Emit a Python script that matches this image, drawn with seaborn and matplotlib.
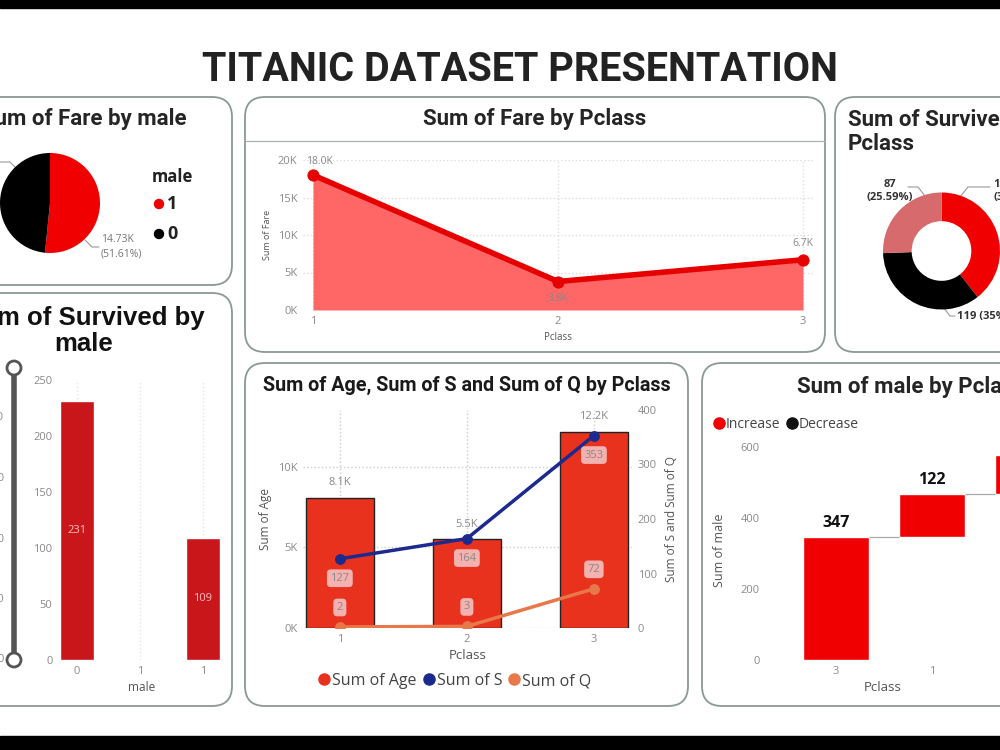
import numpy as np
import matplotlib
matplotlib.use('Agg')
import matplotlib.pyplot as plt
from matplotlib.patches import FancyBboxPatch, Rectangle, Circle
from matplotlib.lines import Line2D
import seaborn as sns

# ---- data ----
fare_male_labels = ['1', '0']
fare_by_male = [14730, 13810]

pclass = [1, 2, 3]
fare_by_pclass = [18000, 3800, 6700]

surv_pclass_labels = ['1', '3', '2']
survived_by_pclass = [134, 119, 87]

male_ticks = ['0', '1', '1']
survived_by_male = [231, np.nan, 109]
slider_ticks = ['200', '150', '100', '50', '0']

age_by_pclass = [8100, 5500, 12200]
s_by_pclass = [127, 164, 353]
q_by_pclass = [2, 3, 72]

waterfall_ticks = ['3', '1', '2']
male_by_pclass = [347, 122, 108]

# ---- figure / helpers ----
sns.set_theme(style='white')
plt.rcParams['font.family'] = ['Open Sans', 'DejaVu Sans']
TITLE_FONT = ['Roboto', 'DejaVu Sans']

W, H = 1000, 750
fig = plt.figure(figsize=(10, 7.5), dpi=100)
fig.patch.set_facecolor('white')


def px_rect(x0, y0, x1, y1):
    return [x0 / W, 1 - y1 / H, (x1 - x0) / W, (y1 - y0) / H]


RED = '#f00000'
GREY_TXT = '#8a8a8a'
DARK_TXT = '#555555'
PT = 16  # panel title size

# background canvas in pixel units
bg = fig.add_axes([0, 0, 1, 1])
bg.set_xlim(0, W)
bg.set_ylim(H, 0)
bg.axis('off')
bg.set_zorder(0)

bg.add_patch(Rectangle((0, 0), W, 8, color='black'))
bg.add_patch(Rectangle((0, 736), W, 14, color='black'))

panels = [(-30, 97, 232, 285), (245, 97, 825, 352), (835, 97, 1030, 352),
          (-30, 293, 232, 706), (245, 363, 688, 706), (702, 363, 1030, 706)]
for x0, y0, x1, y1 in panels:
    bg.add_patch(FancyBboxPatch((x0, y0), x1 - x0, y1 - y0,
                                boxstyle='round,pad=0,rounding_size=20',
                                fc='white', ec='#8c9896', lw=1.3))
bg.plot([245, 825], [141, 141], color='#a9b2b0', lw=0.9)

bg.text(520, 70, 'TITANIC DATASET PRESENTATION', ha='center', va='center',
        fontsize=28.5, fontweight='bold', family=TITLE_FONT, color='#222222')


def style_ticks(ax, size=8):
    ax.tick_params(axis='both', length=0, labelsize=size, labelcolor=GREY_TXT, pad=4)
    for s in ax.spines.values():
        s.set_visible(False)
    ax.set_facecolor('none')


# ---- panel 1: pie of fare by male ----
bg.text(187, 119, 'Sum of Fare by male', ha='right', va='center', fontsize=PT,
        fontweight='bold', family=TITLE_FONT, color='#252525')
ax1 = fig.add_axes(px_rect(0, 153, 100, 253))
ax1.pie(fare_by_male, colors=[RED, 'black'], startangle=90, counterclock=False,
        wedgeprops=dict(edgecolor='none'))
ax1.set_xlim(-1, 1)
ax1.set_ylim(-1, 1)
tot = sum(fare_by_male)
bg.text(101, 247, f'{fare_by_male[0] / 1000:.2f}K\n({fare_by_male[0] / tot * 100:.2f}%)',
        ha='left', va='center', fontsize=7.5, color='#777777', linespacing=1.4)
bg.plot([85, 92, 99], [240, 247, 247], color='#999999', lw=0.8)
bg.plot([-5, 10, 16], [162, 162, 168], color='#999999', lw=0.8)
bg.text(152, 177, 'male', ha='left', va='center', fontsize=12, fontweight='bold',
        color='#222222')
for i, (lab, col) in enumerate(zip(fare_male_labels, [RED, 'black'])):
    y = 204 + i * 30
    bg.add_patch(Circle((159, y), 4.5, color=col))
    bg.text(167, y, lab, ha='left', va='center', fontsize=13, fontweight='bold',
            color='#222222')

# ---- panel 2: area of fare by pclass ----
bg.text(535, 119, 'Sum of Fare by Pclass', ha='center', va='center', fontsize=PT,
        fontweight='bold', family=TITLE_FONT, color='#252525')
ax2 = fig.add_axes(px_rect(303, 160, 813, 310))
ax2.fill_between(pclass, fare_by_pclass, color='#ff6666', lw=0, zorder=1)
sns.lineplot(x=pclass, y=fare_by_pclass, ax=ax2, color='#e60000', lw=4, marker='o',
             markersize=8, markeredgecolor='#e60000', zorder=3)
ax2.set_xlim(1 - 10 / 245, 3 + 10 / 245)
ax2.set_ylim(0, 20000)
ax2.set_yticks(range(0, 20001, 5000))
ax2.set_yticklabels([f'{v // 1000}K' for v in range(0, 20001, 5000)])
ax2.set_xticks(pclass)
ax2.grid(True, ls=':', color='#dddddd', lw=1)
style_ticks(ax2)
ax2.set_xlabel('Pclass', fontsize=7, color=DARK_TXT, labelpad=4)
ax2.set_ylabel('Sum of Fare', fontsize=6.5, color=DARK_TXT, labelpad=4)
fare_label_offsets = [(5, 10), (0, -12), (0, 12)]
for x, v, off in zip(pclass, fare_by_pclass, fare_label_offsets):
    ax2.annotate(f'{v / 1000:.1f}K', (x, v), xytext=off, textcoords='offset points',
                 ha='center', va='center', fontsize=7.5, color='#888888')

# ---- panel 3: donut of survived by pclass ----
bg.text(848, 132, 'Sum of Survived by\nPclass', ha='left', va='center', fontsize=PT,
        fontweight='bold', family=TITLE_FONT, color='#252525', linespacing=1.15)
cx, cy, r = 941.5, 251, 58.5
ax3 = fig.add_axes(px_rect(cx - r, cy - r, cx + r, cy + r))
ax3.pie(survived_by_pclass, colors=[RED, 'black', '#d66a6c'], startangle=90,
        counterclock=False, wedgeprops=dict(width=0.49, edgecolor='none'))
ax3.set_xlim(-1, 1)
ax3.set_ylim(-1, 1)
stot = sum(survived_by_pclass)


def pct(v):
    return ('%.2f' % (v / stot * 100)).rstrip('0').rstrip('.')


bg.text(993, 191, f'{survived_by_pclass[0]}\n({pct(survived_by_pclass[0])}%)', ha='left',
        va='center', fontsize=8, fontweight='bold', color='#333333', linespacing=1.3)
bg.text(957, 316, f'{survived_by_pclass[1]} ({pct(survived_by_pclass[1])}%)', ha='left',
        va='center', fontsize=8, fontweight='bold', color='#333333')
bg.text(890, 191, f'{survived_by_pclass[2]}\n({pct(survived_by_pclass[2])}%)', ha='center',
        va='center', fontsize=8, fontweight='bold', color='#333333', linespacing=1.3)
bg.plot([908, 918, 925], [187, 187, 196], color='#999999', lw=0.8)
bg.plot([960, 968, 990], [197, 187, 187], color='#999999', lw=0.8)
bg.plot([944, 950, 955], [308, 316, 316], color='#999999', lw=0.8)

# ---- panel 4: bars of survived by male ----
bg.text(84, 331, 'Sum of Survived by\nmale', ha='center', va='center', fontsize=18.5,
        fontweight='bold', family=['Liberation Sans', 'DejaVu Sans'], color='#111111',
        linespacing=1.1)
pos4 = list(range(len(male_ticks)))
ax4 = fig.add_axes(px_rect(58, 380, 225, 660))
sns.barplot(x=pos4, y=survived_by_male, order=pos4, color='#c8161b', saturation=1,
            width=0.55, ax=ax4, zorder=2)
ax4.bar_label(ax4.containers[0], label_type='center', color='#f7c0c0', fontsize=8)
ax4.set_xlim(-0.3, 2.35)
ax4.set_ylim(0, 250)
ax4.set_yticks(range(0, 251, 50))
ax4.set_xticklabels(male_ticks)
ax4.grid(True, axis='x', ls=':', color='#e4e4e4', lw=1)
style_ticks(ax4)
ax4.set_xlabel('male', fontsize=8.5, color=DARK_TXT, labelpad=3)
ax4.set_ylabel('')
# range slider
bg.plot([14, 14], [368, 660], color='#555555', lw=4, solid_capstyle='butt', zorder=2)
for yy in (368, 660):
    bg.add_patch(Circle((14, yy), 7, fc='white', ec='#555555', lw=2, zorder=3))
for i, t in enumerate(slider_ticks):
    bg.text(4, 418 + i * 60.5, t, ha='right', va='center', fontsize=8, color=GREY_TXT)

# ---- panel 5: combo chart ----
bg.text(467, 385, 'Sum of Age, Sum of S and Sum of Q by Pclass', ha='center', va='center',
        fontsize=14.2, fontweight='bold', family=TITLE_FONT, color='#1a1a1a')
pos5 = list(range(len(pclass)))
ax5 = fig.add_axes(px_rect(303, 410, 632, 628))
sns.barplot(x=pos5, y=age_by_pclass, order=pos5, color='#e8321e', saturation=1,
            width=0.535, edgecolor='#222222', linewidth=1, ax=ax5, zorder=2)
ax5.bar_label(ax5.containers[0], labels=[f'{v / 1000:.1f}K' for v in age_by_pclass],
              padding=7, fontsize=8, color='#888888')
ax5.set_xlim(-0.29, 2.3)
ax5.set_ylim(0, 13540)
ax5.set_yticks([0, 5000, 10000])
ax5.set_yticklabels(['0K', '5K', '10K'])
ax5.set_xticklabels([str(p) for p in pclass])
ax5.grid(True, ls=':', color='#cccccc', lw=1)
style_ticks(ax5)
ax5.set_xlabel('Pclass', fontsize=9.5, color=DARK_TXT, labelpad=3)
ax5.set_ylabel('Sum of Age', fontsize=8.5, color=DARK_TXT, labelpad=4)

ax5b = ax5.twinx()
sns.lineplot(x=pos5, y=s_by_pclass, ax=ax5b, color='#1c2a8e', lw=2.5, marker='o',
             markersize=7, markeredgecolor='#1c2a8e', zorder=4)
sns.lineplot(x=pos5, y=q_by_pclass, ax=ax5b, color='#e8774a', lw=2.5, marker='o',
             markersize=7, markeredgecolor='#e8774a', zorder=4)
ax5b.set_ylim(0, 400)
ax5b.set_yticks(range(0, 401, 100))
style_ticks(ax5b)
ax5b.set_ylabel('Sum of S and Sum of Q', fontsize=8.5, color=DARK_TXT, labelpad=6)
box = dict(boxstyle='round,pad=0.3,rounding_size=0.35', fc='#f6caca', ec='none', alpha=0.85)
for x, v in zip(pos5, s_by_pclass):
    ax5b.annotate(str(v), (x, v), xytext=(0, -14), textcoords='offset points', ha='center',
                  va='center', fontsize=8, color='#888888', bbox=box, zorder=6)
for x, v in zip(pos5, q_by_pclass):
    ax5b.annotate(str(v), (x, v), xytext=(0, 14), textcoords='offset points', ha='center',
                  va='center', fontsize=8, color='#888888', bbox=box, zorder=6)
h5 = [Line2D([], [], ls='', marker='o', markersize=8, color=c)
      for c in ('#e8321e', '#1c2a8e', '#e8774a')]
fig.legend(h5, ['Sum of Age', 'Sum of S', 'Sum of Q'], loc='center',
           bbox_to_anchor=(455 / W, 1 - 681 / H), ncol=3, frameon=False, fontsize=11.5,
           handlelength=0.7, handletextpad=0.15, columnspacing=0.4, labelcolor='#444444',
           borderpad=0, borderaxespad=0)

# ---- panel 6: waterfall of male by pclass ----
bg.text(797, 387, 'Sum of male by Pclass', ha='left', va='center', fontsize=PT,
        fontweight='bold', family=TITLE_FONT, color='#252525')
pos6 = list(range(len(waterfall_ticks)))
tops = np.cumsum(male_by_pclass)
bottoms = tops - np.array(male_by_pclass)
ax6 = fig.add_axes(px_rect(765, 440, 1000, 660))
sns.barplot(x=pos6, y=male_by_pclass, order=pos6, bottom=bottoms, color=RED,
            saturation=1, width=0.69, ax=ax6, zorder=2)
ax6.bar_label(ax6.containers[0], labels=[str(v) for v in male_by_pclass], padding=4,
              fontsize=11.5, fontweight='bold', color='#111111')
for i in range(len(pos6) - 1):
    ax6.hlines(tops[i], pos6[i] + 0.345, pos6[i + 1] - 0.345, color='#aaaaaa', lw=0.9)
ax6.set_xlim(-(836 - 765) / 96, (1000 - 836) / 96)
ax6.set_ylim(0, 620)
ax6.set_yticks(range(0, 601, 200))
ax6.set_xticklabels(waterfall_ticks)
style_ticks(ax6)
ax6.set_xlabel('Pclass', fontsize=9.5, color=DARK_TXT, labelpad=3)
ax6.set_ylabel('Sum of male', fontsize=9, color=DARK_TXT, labelpad=10)
h6 = [Line2D([], [], ls='', marker='o', markersize=8, color=c) for c in (RED, '#111111')]
fig.legend(h6, ['Increase', 'Decrease'], loc='center left',
           bbox_to_anchor=(714 / W, 1 - 424 / H), ncol=2, frameon=False, fontsize=10,
           handlelength=0.7, handletextpad=0.15, columnspacing=0.5, labelcolor='#444444',
           borderpad=0, borderaxespad=0)

fig.savefig('out.png', dpi=100)
